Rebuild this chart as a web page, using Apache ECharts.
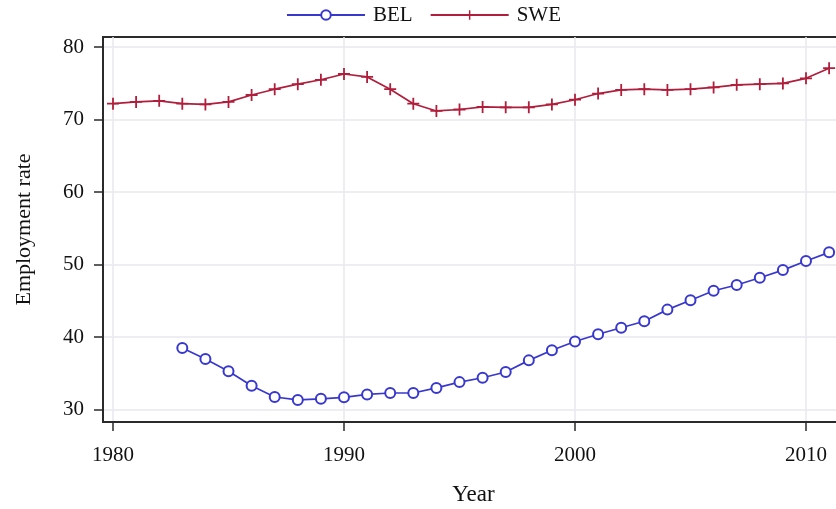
<!DOCTYPE html>
<html>
<head>
<meta charset="utf-8">
<script src="https://cdn.jsdelivr.net/npm/echarts@6/dist/echarts.min.js"></script>
<style>html,body{margin:0;padding:0;background:#fff;}#c{width:836px;height:509px;}</style>
</head>
<body>
<div id="c"></div>
<script>
const belYears = [1983,1984,1985,1986,1987,1988,1989,1990,1991,1992,1993,1994,1995,1996,1997,1998,1999,2000,2001,2002,2003,2004,2005,2006,2007,2008,2009,2010,2011];
const belValues = [38.5,37.0,35.3,33.3,31.75,31.35,31.5,31.7,32.1,32.3,32.3,33.0,33.8,34.4,35.2,36.8,38.2,39.4,40.4,41.3,42.2,43.8,45.1,46.4,47.2,48.2,49.25,50.5,51.7];
const sweYears = [1980,1981,1982,1983,1984,1985,1986,1987,1988,1989,1990,1991,1992,1993,1994,1995,1996,1997,1998,1999,2000,2001,2002,2003,2004,2005,2006,2007,2008,2009,2010,2011];
const sweValues = [72.2,72.45,72.6,72.2,72.1,72.45,73.4,74.2,74.9,75.5,76.3,75.9,74.2,72.2,71.2,71.4,71.75,71.7,71.7,72.1,72.75,73.6,74.1,74.2,74.1,74.2,74.45,74.8,74.9,75.0,75.7,77.1];
const xTicks = [1980,1990,2000,2010];
const yTicks = [30,40,50,60,70,80];

const FONT = '"Liberation Serif", "Times New Roman", serif';
const plus = 'path://M4.25,0h1.5v10h-1.5z M0,4.25h10v1.5h-10z';

const chart = echarts.init(document.getElementById('c'), null, {renderer:'canvas'});
chart.setOption({
  animation: false,
  backgroundColor: '#fff',
  textStyle: {fontFamily: FONT},
  legend: {
    top: 4, left: 286, padding: 0,
    itemWidth: 78, itemHeight: 12, itemGap: 17,
    textStyle: {fontFamily: FONT, fontSize: 21, color: '#111', padding: [0,0,0,3], lineHeight: 22},
    data: ['BEL','SWE']
  },
  grid: {
    left: 103, top: 37, width: 763, height: 385,
    outerBoundsMode: 'none', containLabel: false,
    show: true, borderColor: '#2a2a2a', borderWidth: 2, backgroundColor: 'transparent'
  },
  xAxis: {
    type: 'value', min: 1979.567, max: 1979.567 + 763/23.1,
    name: 'Year', nameLocation: 'middle', nameGap: 61,
    nameTextStyle: {fontFamily: FONT, fontSize: 23, color: '#111', padding: [0,22,0,0]},
    axisLine: {show: true, lineStyle: {color: '#2a2a2a', width: 2}},
    axisTick: {show: true, customValues: xTicks, length: 9, lineStyle: {color: '#2a2a2a', width: 1.5}},
    axisLabel: {customValues: xTicks, margin: 23, fontFamily: FONT, fontSize: 21, color: '#111', formatter: v => String(Math.round(v))},
    splitLine: {show: true, lineStyle: {color: '#e8e8ee', width: 1.5}}
  },
  yAxis: {
    type: 'value', min: 28.3, max: 81.4,
    name: 'Employment rate', nameLocation: 'middle', nameGap: 68, nameRotate: 90,
    nameTextStyle: {fontFamily: FONT, fontSize: 22, color: '#111'},
    axisLine: {show: true, lineStyle: {color: '#2a2a2a', width: 2}},
    axisTick: {show: true, customValues: yTicks, length: 9, lineStyle: {color: '#2a2a2a', width: 1.5}},
    axisLabel: {customValues: yTicks, margin: 19, fontFamily: FONT, fontSize: 21, color: '#111'},
    splitLine: {show: true, lineStyle: {color: '#e8e8ee', width: 1.5}}
  },
  series: [
    {
      name: 'BEL', type: 'line',
      data: belYears.map((y,i)=>[y, belValues[i]]),
      symbol: 'emptyCircle', symbolSize: 10, showAllSymbol: true,
      lineStyle: {color: '#3838cf', width: 1.7},
      itemStyle: {color: '#3838cf', borderColor: '#3838cf', borderWidth: 1.8}
    },
    {
      name: 'SWE', type: 'line',
      data: sweYears.map((y,i)=>[y, sweValues[i]]),
      symbol: plus, symbolSize: 12, showAllSymbol: true,
      lineStyle: {color: '#b01e3c', width: 1.7},
      itemStyle: {color: '#b01e3c'}
    }
  ]
});
</script>
</body>
</html>
